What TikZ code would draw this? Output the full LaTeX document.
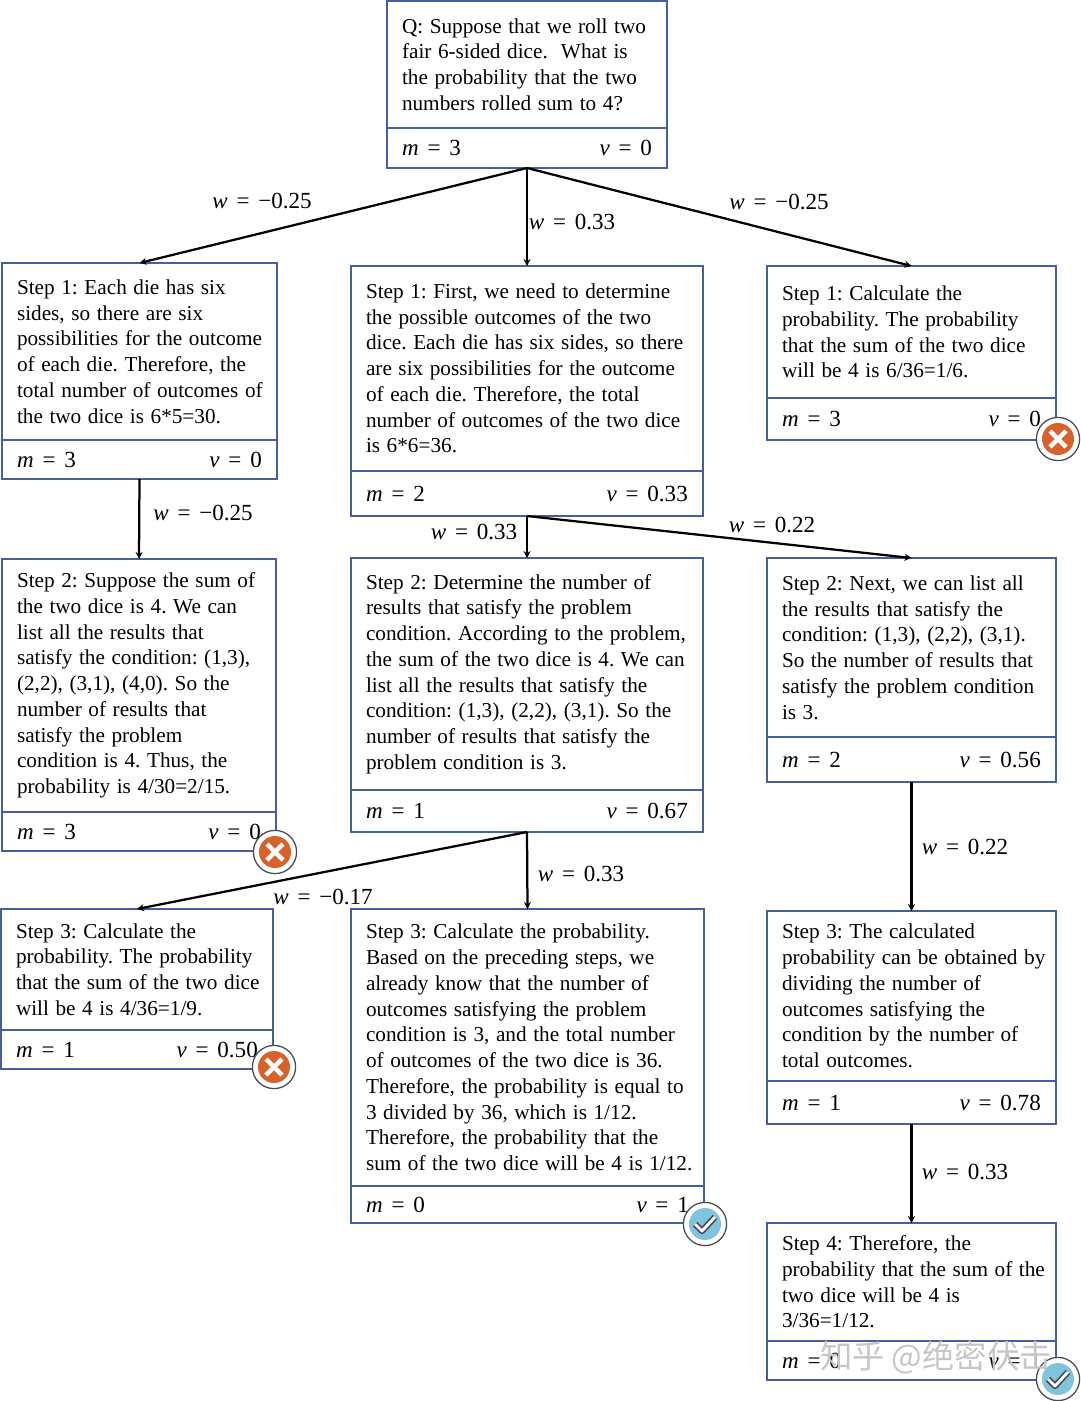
\documentclass[tikz,border=0pt]{standalone}
\usepackage{fontspec}
\setmainfont{Liberation Serif}
\newfontfamily\cjkmark{Noto Sans CJK SC}
\usepackage{tikz}
\usetikzlibrary{arrows.meta,positioning,calc}
\definecolor{boxblue}{HTML}{45609F}
\definecolor{failfill}{HTML}{D8622C}
\definecolor{passfill}{HTML}{7FC3DC}
\definecolor{ringgray}{HTML}{4A4A55}
\newcommand{\eqtext}[2]{{\fontsize{16.4}{18}\selectfont\textit{#1}\hspace{0.38em}=\hspace{0.38em}#2}}
\newcommand{\stepnode}[9]{%
  \node[textbox,text width=#4*0.025cm,minimum height=#5*0.025cm] (#1) at (#2,#3)
    {\leftskip=0.375cm\spaceskip=0.31em\frenchspacing #7\par};
  \node[statbox,text width=#4*0.025cm-0.76cm,minimum height=#6*0.025cm] (#1v) at (#1.south)
    {\eqtext{m}{#8}\hfill\eqtext{v}{#9}};
}
\begin{document}
\begin{tikzpicture}[
  x=0.025cm,y=-0.025cm,
  font=\fontsize{15.1}{18.3}\selectfont,
  textbox/.style={draw=boxblue,line width=1.7pt,anchor=north west,align=flush left,outer sep=0pt,
                  inner xsep=0pt,inner ysep=0pt},
  statbox/.style={draw=boxblue,line width=1.7pt,anchor=north,align=left,outer sep=0pt,
                  inner xsep=0.38cm,inner ysep=0pt},
  arr/.style={-{Stealth[length=5pt,width=5pt]},line width=1.6pt},
  wlabel/.style={inner sep=0pt},
  ring/.style={circle,draw=ringgray,fill=white,line width=0.9pt,minimum size=1.08cm,inner sep=0pt},
  failmark/.pic={
    \fill[failfill] (0,0) circle (16);
    \draw[white,line width=3.2pt] (-8,-8) -- (8,8) (-8,8) -- (8,-8);
  },
  passmark/.pic={
    \fill[passfill] (0,0) circle (16);
    \draw[ringgray,line width=4.4pt,line join=round] (-10,0) -- (-3,7) -- (10,-7);
    \draw[white,line width=2pt,line join=round] (-10,0) -- (-3,7) -- (10,-7);
  }]
\useasboundingbox (0,0) rectangle (1080,1401);
% question
\stepnode{q}{387}{1}{280}{127}{40}{Q: Suppose that we roll two\\fair 6-sided dice.\ \ What is\\the probability that the two\\numbers rolled sum to 4?}{3}{0}
% left column
\stepnode{a1}{2}{263}{275}{177}{39}{Step 1: Each die has six\\sides, so there are six\\possibilities for the outcome\\of each die. Therefore, the\\total number of outcomes of\\the two dice is 6*5=30.}{3}{0}
\stepnode{a2}{2}{559}{274}{253}{39}{Step 2: Suppose the sum of\\the two dice is 4. We can\\list all the results that\\satisfy the condition: (1,3),\\(2,2), (3,1), (4,0). So the\\number of results that\\satisfy the problem\\condition is 4. Thus, the\\probability is 4/30=2/15.}{3}{0}
\stepnode{a3}{1}{909}{272}{121}{39}{Step 3: Calculate the\\probability. The probability\\that the sum of the two dice\\will be 4 is 4/36=1/9.}{1}{0.50}
% middle column
\stepnode{b1}{351}{266}{352}{205}{45}{Step 1: First, we need to determine\\the possible outcomes of the two\\dice. Each die has six sides, so there\\are six possibilities for the outcome\\of each die. Therefore, the total\\number of outcomes of the two dice\\is 6*6=36.}{2}{0.33}
\stepnode{b2}{351}{558}{352}{232}{42}{Step 2: Determine the number of\\results that satisfy the problem\\condition. According to the problem,\\the sum of the two dice is 4. We can\\list all the results that satisfy the\\condition: (1,3), (2,2), (3,1). So the\\number of results that satisfy the\\problem condition is 3.}{1}{0.67}
\stepnode{b3}{351}{909}{353}{277}{37}{Step 3: Calculate the probability.\\Based on the preceding steps, we\\already know that the number of\\outcomes satisfying the problem\\condition is 3, and the total number\\of outcomes of the two dice is 36.\\Therefore, the probability is equal to\\3 divided by 36, which is 1/12.\\Therefore, the probability that the\\sum of the two dice will be 4 is 1/12.}{0}{1}
% right column
\stepnode{c1}{767}{266}{289}{132}{42}{Step 1: Calculate the\\probability. The probability\\that the sum of the two dice\\will be 4 is 6/36=1/6.}{3}{0}
\stepnode{c2}{767}{558}{289}{179}{45}{Step 2: Next, we can list all\\the results that satisfy the\\condition: (1,3), (2,2), (3,1).\\So the number of results that\\satisfy the problem condition\\is 3.}{2}{0.56}
\stepnode{c3}{767}{911}{289}{170}{43}{Step 3: The calculated\\probability can be obtained by\\dividing the number of\\outcomes satisfying the\\condition by the number of\\total outcomes.}{1}{0.78}
\stepnode{c4}{767}{1223}{289}{118}{39}{Step 4: Therefore, the\\probability that the sum of the\\two dice will be 4 is\\3/36=1/12.}{0}{1}
% edges
\draw[arr] (qv.south) -- (a1.north);
\draw[arr] (qv.south) -- (b1.north);
\draw[arr] (qv.south) -- (c1.north);
\draw[arr] (a1v.south) -- (a2.north);
\draw[arr] (b1v.south) -- (b2.north);
\draw[arr] (b1v.south) -- (c2.north);
\draw[arr] (b2v.south) -- (a3.north);
\draw[arr] (b2v.south) -- (b3.north);
\draw[arr] (c2v.south) -- (c3.north);
\draw[arr] (c3v.south) -- (c4.north);
% edge labels
\node[wlabel] (w1) at (262,201) {\eqtext{w}{−0.25}};
\node[wlabel] (w2) at (572,222) {\eqtext{w}{0.33}};
\node[wlabel] (w3) at (779,202) {\eqtext{w}{−0.25}};
\node[wlabel] (w4) at (203,513) {\eqtext{w}{−0.25}};
\node[wlabel] (w5) at (474,532) {\eqtext{w}{0.33}};
\node[wlabel] (w6) at (772,525) {\eqtext{w}{0.22}};
\node[wlabel] (w7) at (323,897) {\eqtext{w}{−0.17}};
\node[wlabel] (w8) at (581,874) {\eqtext{w}{0.33}};
\node[wlabel] (w9) at (965,847) {\eqtext{w}{0.22}};
\node[wlabel] (w10) at (965,1172) {\eqtext{w}{0.33}};
% badges
\node[ring] (f1) at (1058,439) {};
\pic at (f1) {failmark};
\node[ring] (f2) at (275,852) {};
\pic at (f2) {failmark};
\node[ring] (f3) at (274,1067) {};
\pic at (f3) {failmark};
\node[ring] (p1) at (705,1224) {};
\pic at (p1) {passmark};
\node[ring] (p2) at (1058,1379) {};
\pic at (p2) {passmark};
% watermark
\node[text=gray!45,inner sep=0pt,font=\cjkmark\fontsize{23}{25}\selectfont] (mark) at (936,1358) {知乎 @绝密伏击};
\end{tikzpicture}
\end{document}
